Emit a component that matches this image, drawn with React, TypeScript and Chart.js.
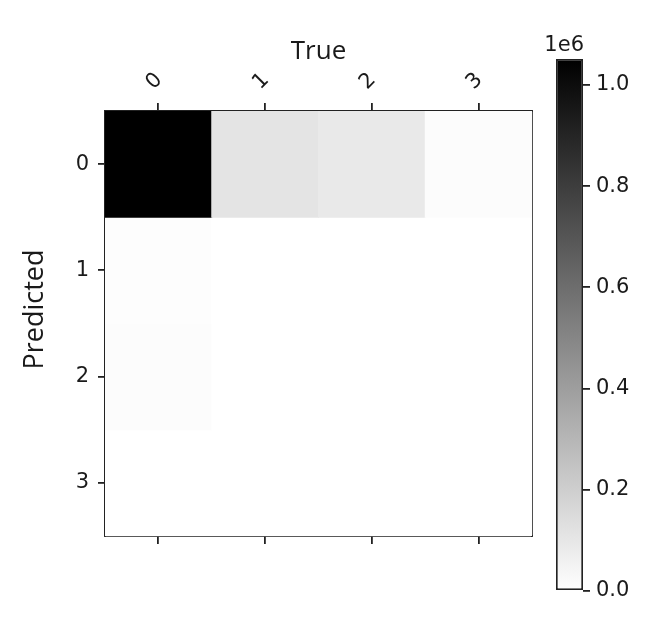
import React, { useEffect, useRef } from "react";
import { Chart, registerables } from "chart.js";

Chart.register(...registerables);

// ---- data ----
const trueLabels = ["0", "1", "2", "3"];
const predictedLabels = ["0", "1", "2", "3"];
const row0 = [1051000, 112000, 92000, 12000];
const row1 = [8000, 300, 200, 100];
const row2 = [11000, 400, 300, 150];
const row3 = [1500, 100, 80, 0];
const matrixRows = [row0, row1, row2, row3];
const colorbarTicks = [0, 200000, 400000, 600000, 800000, 1000000];
const offsetLabel = "1e6";
const xTitle = "True";
const yTitle = "Predicted";

const allValues = matrixRows.flat();
const vmin = Math.min(...allValues);
const vmax = Math.max(...allValues);

function grayFor(v: number): string {
  const t = (v - vmin) / (vmax - vmin);
  const g = Math.round(255 * (1 - t));
  return `rgb(${g},${g},${g})`;
}

const TICK_FONT = { family: "'DejaVu Sans', sans-serif", size: 21 };
const TITLE_FONT = { family: "'Open Sans', sans-serif", size: 26 };
const TEXT = "#1a1a1a";
const LINE = "#222";
const LW = 1.8;

function fixSize(w?: number, h?: number) {
  return (s: any) => {
    if (w !== undefined) s.width = w;
    if (h !== undefined) s.height = h;
    s.paddingLeft = 0;
    s.paddingRight = 0;
    s.paddingTop = 0;
    s.paddingBottom = 0;
  };
}

export default function App() {
  const mainRef = useRef<HTMLCanvasElement>(null);
  const barRef = useRef<HTMLCanvasElement>(null);

  useEffect(() => {
    const yTitlePlugin = {
      id: "yTitle",
      afterDraw(chart: any) {
        const { ctx, chartArea } = chart;
        ctx.save();
        ctx.font = `27px ${TITLE_FONT.family}`;
        ctx.fillStyle = TEXT;
        ctx.textAlign = "center";
        ctx.textBaseline = "middle";
        ctx.translate(35, (chartArea.top + chartArea.bottom) / 2 - 14);
        ctx.rotate(-Math.PI / 2);
        ctx.fillText(yTitle, 0, 0);
        ctx.restore();
      },
    };

    const main = new Chart(mainRef.current!, {
      type: "bar",
      data: {
        labels: trueLabels,
        datasets: matrixRows.map((row, r) => ({
          label: predictedLabels[r],
          data: row.map(() => [r, r + 1]) as any,
          backgroundColor: row.map((v) => grayFor(v)),
          borderWidth: 0,
          barPercentage: 1,
          categoryPercentage: 1,
          grouped: false,
          inflateAmount: 0.5,
        })),
      },
      options: {
        responsive: false,
        animation: false,
        layout: { padding: { left: 0, top: 0, right: 13, bottom: 0 } },
        plugins: { legend: { display: false }, tooltip: { enabled: false } },
        scales: {
          x: {
            type: "category",
            position: "top",
            offset: true,
            grid: { offset: false, drawOnChartArea: false, drawTicks: true, tickLength: 8, tickColor: LINE, lineWidth: LW },
            border: { display: true, color: LINE, width: LW },
            ticks: { font: TICK_FONT, color: TEXT, minRotation: 45, maxRotation: 45, padding: 8, labelOffset: 9 },
            title: { display: true, text: xTitle, font: TITLE_FONT, color: TEXT, padding: { top: 36, bottom: 0 } },
            afterFit: fixSize(undefined, 111),
          },
          x2: {
            type: "category",
            labels: trueLabels,
            position: "bottom",
            offset: true,
            grid: { offset: false, drawOnChartArea: false, drawTicks: true, tickLength: 8, tickColor: LINE, lineWidth: LW },
            border: { display: true, color: LINE, width: LW },
            ticks: { display: false },
            afterFit: fixSize(undefined, 64),
          },
          y: {
            type: "linear",
            position: "left",
            min: 0,
            max: 4,
            reverse: true,
            afterBuildTicks: (s: any) => {
              s.ticks = predictedLabels.map((_, i) => ({ value: i + 0.5 }));
            },
            ticks: {
              font: TICK_FONT,
              color: TEXT,
              padding: 9,
              callback: (v: any) => predictedLabels[Math.floor(Number(v))],
            },
            grid: { drawOnChartArea: false, drawTicks: true, tickLength: 7, tickColor: LINE, lineWidth: LW },
            border: { display: true, color: LINE, width: LW },
            afterFit: fixSize(105, undefined),
          },
          yr: {
            type: "linear",
            position: "right",
            min: 0,
            max: 4,
            ticks: { display: false },
            grid: { drawOnChartArea: false, drawTicks: false },
            border: { display: true, color: LINE, width: LW },
            afterFit: fixSize(0, undefined),
          },
        },
      } as any,
      plugins: [yTitlePlugin],
    });

    const offsetTextPlugin = {
      id: "offsetText",
      afterDraw(chart: any) {
        const { ctx, chartArea } = chart;
        ctx.save();
        ctx.font = `${TICK_FONT.size}px ${TICK_FONT.family}`;
        ctx.fillStyle = TEXT;
        ctx.textAlign = "right";
        ctx.textBaseline = "bottom";
        ctx.fillText(offsetLabel, chartArea.right + 1, chartArea.top - 3);
        ctx.restore();
      },
    };

    const bar = new Chart(barRef.current!, {
      type: "bar",
      data: {
        labels: ["scale"],
        datasets: [
          {
            data: [[vmin, vmax]] as any,
            backgroundColor: (c: any) => {
              const chart = c.chart;
              const ys = chart.scales?.y;
              if (!chart.chartArea || !ys) return "#888";
              const g = chart.ctx.createLinearGradient(0, ys.getPixelForValue(vmax), 0, ys.getPixelForValue(vmin));
              g.addColorStop(0, grayFor(vmax));
              g.addColorStop(1, grayFor(vmin));
              return g;
            },
            borderColor: LINE,
            borderWidth: LW,
            borderSkipped: false,
            barPercentage: 1,
            categoryPercentage: 1,
            inflateAmount: 0,
          },
        ],
      },
      options: {
        responsive: false,
        animation: false,
        layout: { padding: { left: 16, top: 59, bottom: 37, right: 0 } },
        plugins: { legend: { display: false }, tooltip: { enabled: false } },
        scales: {
          x: { display: false, offset: true },
          y: {
            type: "linear",
            position: "right",
            min: vmin,
            max: vmax,
            afterBuildTicks: (s: any) => {
              s.ticks = colorbarTicks.map((v) => ({ value: v }));
            },
            ticks: {
              font: TICK_FONT,
              color: TEXT,
              padding: 6,
              callback: (v: any) => (Number(v) / 1e6).toFixed(1),
            },
            grid: { drawOnChartArea: false, drawTicks: true, tickLength: 7, tickColor: LINE, lineWidth: LW },
            border: { display: false },
            afterFit: fixSize(85, undefined),
          },
        },
      } as any,
      plugins: [offsetTextPlugin],
    });

    return () => {
      main.destroy();
      bar.destroy();
    };
  }, []);

  return (
    <div style={{ position: "absolute", left: 0, top: 0, width: 668, height: 628, background: "#fff" }}>
      <canvas ref={mainRef} width={545} height={600} style={{ position: "absolute", left: 0, top: 0 }} />
      <canvas ref={barRef} width={128} height={628} style={{ position: "absolute", left: 540, top: 0 }} />
    </div>
  );
}
